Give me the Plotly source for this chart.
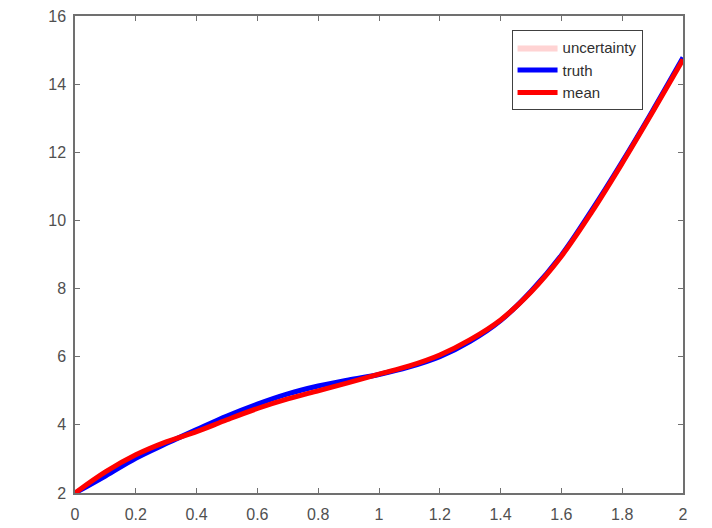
import plotly.graph_objects as go

x_vals = [0.0, 0.1, 0.2, 0.3, 0.4, 0.5, 0.6, 0.7, 0.8, 0.9, 1.0,
          1.1, 1.2, 1.3, 1.4, 1.5, 1.6, 1.7, 1.8, 1.9, 2.0]
truth_vals = [2.00, 2.50, 3.02, 3.45, 3.86, 4.26, 4.61, 4.91, 5.14, 5.32, 5.48,
              5.70, 6.00, 6.45, 7.06, 7.92, 8.98, 10.30, 11.72, 13.22, 14.78]
mean_vals = [2.00, 2.62, 3.12, 3.50, 3.80, 4.15, 4.48, 4.76, 5.00, 5.24, 5.49,
             5.73, 6.05, 6.50, 7.08, 7.90, 8.95, 10.25, 11.68, 13.18, 14.72]
band_lower = [1.96, 2.58, 3.08, 3.46, 3.76, 4.11, 4.44, 4.72, 4.96, 5.20, 5.45,
              5.69, 6.01, 6.46, 7.04, 7.86, 8.91, 10.21, 11.64, 13.14, 14.68]
band_upper = [2.04, 2.66, 3.16, 3.54, 3.84, 4.19, 4.52, 4.80, 5.04, 5.28, 5.53,
              5.77, 6.09, 6.54, 7.12, 7.94, 8.99, 10.29, 11.72, 13.22, 14.76]

x_ticks = [0, 0.2, 0.4, 0.6, 0.8, 1, 1.2, 1.4, 1.6, 1.8, 2]
x_tick_labels = ["0", "0.2", "0.4", "0.6", "0.8", "1", "1.2", "1.4", "1.6", "1.8", "2"]
y_ticks = [2, 4, 6, 8, 10, 12, 14, 16]

fig = go.Figure()
fig.add_trace(go.Scatter(
    x=x_vals + x_vals[::-1], y=band_upper + band_lower[::-1],
    fill="toself", fillcolor="rgba(255,182,182,0.6)",
    line=dict(width=0, color="rgba(0,0,0,0)"), mode="lines",
    name="uncertainty", hoverinfo="skip", line_shape="spline"))
fig.add_trace(go.Scatter(x=x_vals, y=truth_vals, mode="lines", name="truth",
                         line=dict(color="#0000ff", width=5, shape="spline")))
fig.add_trace(go.Scatter(x=x_vals, y=mean_vals, mode="lines", name="mean",
                         line=dict(color="#ff0000", width=5, shape="spline")))

axis_common = dict(showline=True, linecolor="#707070", linewidth=1.5, mirror="ticks",
                   ticks="inside", ticklen=5, tickcolor="#707070", showgrid=False,
                   zeroline=False, automargin=False,
                   tickfont=dict(family="Liberation Sans, Arial", size=16, color="#505050"))

fig.update_layout(
    width=712, height=528,
    margin=dict(l=75, r=29, t=16, b=35),
    paper_bgcolor="white", plot_bgcolor="white",
    xaxis=dict(range=[0, 2], tickvals=x_ticks, ticktext=x_tick_labels,
               ticklabelstandoff=6, **axis_common),
    yaxis=dict(range=[2, 16], tickvals=y_ticks, ticklabelstandoff=4, **axis_common),
    legend=dict(x=0.718, y=0.97, xanchor="left", yanchor="top",
                bgcolor="white", bordercolor="#404040", borderwidth=1,
                font=dict(family="Liberation Sans, Arial", size=15, color="#303030"),
                itemwidth=40, tracegroupgap=0),
    showlegend=True,
)

fig.write_html("out.html")
